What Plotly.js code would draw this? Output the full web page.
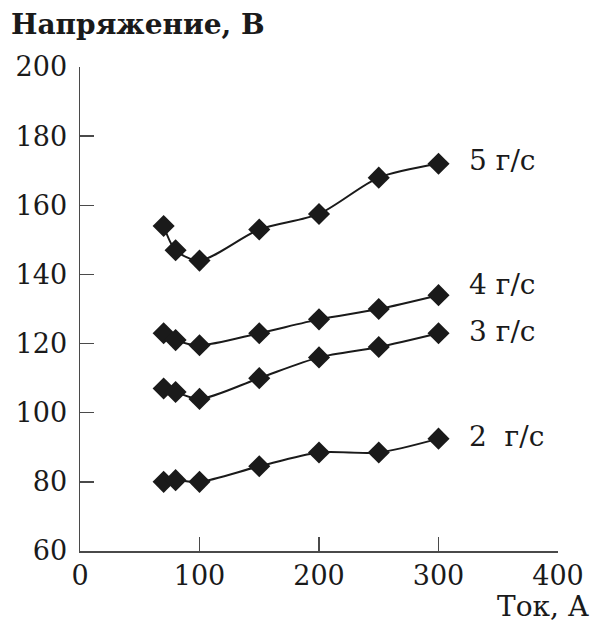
<!DOCTYPE html>
<html>
<head>
<meta charset="utf-8">
<script src="https://cdn.plot.ly/plotly-3.0.1.min.js"></script>
<style>
  html, body { margin: 0; padding: 0; background: #fff; }
  #chart { width: 593px; height: 624px; }
</style>
</head>
<body>
<div id="chart"></div>
<script>
// Current, A
const current = [70, 80, 100, 150, 200, 250, 300];

// Voltage, V, for each gas flow rate
const flow5 = [154, 147, 144, 153, 157.5, 168, 172];
const flow4 = [123, 121, 119.5, 123, 127, 130, 134];
const flow3 = [107, 106, 104, 110, 116, 119, 123];
const flow2 = [80, 80.5, 80, 84.5, 88.5, 88.5, 92.5];

const seriesLabels = ['5 г/с', '4 г/с', '3 г/с', '2  г/с'];
const labelY = [173, 137, 123.5, 93];

const xTicks = [0, 100, 200, 300, 400];
const yTicks = [60, 80, 100, 120, 140, 160, 180, 200];

const FONT = 'DejaVu Serif';
const INK = '#1a1a1a';

function series(y) {
  return {
    x: current, y: y, type: 'scatter', mode: 'lines+markers',
    line: { color: INK, width: 2, shape: 'spline', smoothing: 0.8 },
    marker: { symbol: 'diamond', size: 17, color: INK },
    hoverinfo: 'x+y', showlegend: false
  };
}

const data = [series(flow5), series(flow4), series(flow3), series(flow2)];

const annotations = seriesLabels.map((t, i) => ({
  text: t, x: 324, y: labelY[i], xref: 'x', yref: 'y',
  xanchor: 'left', yanchor: 'middle', showarrow: false,
  font: { family: FONT, size: 28, color: INK }
}));

// axis titles as free text: y title above the axis, x title under its right end
annotations.push({
  text: '<b>Напряжение, В</b>', xref: 'paper', yref: 'paper',
  x: -0.149, y: 1.087, xanchor: 'left', yanchor: 'middle', showarrow: false,
  font: { family: FONT, size: 28, color: INK }
});
annotations.push({
  text: 'Ток, А', xref: 'paper', yref: 'paper',
  x: 1.07, y: -0.152, xanchor: 'right', yanchor: 'bottom', showarrow: false,
  font: { family: FONT, size: 28, color: INK }
});

const axisCommon = {
  showgrid: false, zeroline: false, showline: true,
  linecolor: '#4a4a4a', linewidth: 1.5,
  ticks: 'inside', ticklen: 14, tickwidth: 1.5, tickcolor: '#4a4a4a',
  tickfont: { family: FONT, size: 27, color: INK },
  fixedrange: true
};

const layout = {
  width: 593, height: 624,
  margin: { l: 80, r: 35, t: 67, b: 73 },
  paper_bgcolor: '#fff', plot_bgcolor: '#fff',
  font: { family: FONT, color: INK },
  xaxis: Object.assign({}, axisCommon, {
    range: [0, 400], tickvals: xTicks, ticktext: xTicks.map(String),
    ticklabelstandoff: 0
  }),
  yaxis: Object.assign({}, axisCommon, {
    range: [60, 200], tickvals: yTicks, ticktext: yTicks.map(String),
    ticklabelstandoff: 6
  }),
  annotations: annotations
};

Plotly.newPlot('chart', data, layout, { displayModeBar: false, staticPlot: true });
</script>
</body>
</html>
